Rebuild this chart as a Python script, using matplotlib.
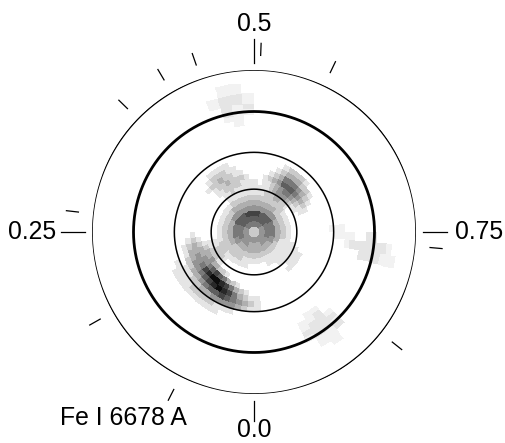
import matplotlib
matplotlib.use('Agg')
import matplotlib.pyplot as plt
import numpy as np

plt.rcParams['font.family'] = ['Liberation Sans', 'DejaVu Sans']

# ---------------- data ----------------
major_phases = [0.0, 0.25, 0.5, 0.75]
major_labels = ['0.0', '0.25', '0.5', '0.75']
obs_phases = [0.075, 0.168, 0.268, 0.373, 0.415, 0.447, 0.506, 0.571, 0.764, 0.857]
line_label = 'Fe I 6678 A'

# latitude circles (colatitude, deg): lat 60, 30, equator, -30
circle_colat = [32.0, 59.5, 90.0, 121.0]
circle_lw = [1.1, 1.1, 2.0, 1.1]

BAND = 4          # colatitude step of one map band (deg)
N_BANDS = 30
N_LON = 72        # cells per band (phase step 1/72)

# polar cap bands: 8 groups of 9 cells each, starting at phase 0
cap_rows = [
    "222222222" "222222222" "222222222" "222222222" "222222222" "222222222" "222222222" "222222222",
    "444444444" "444444444" "444444455" "555555555" "555555555" "554444444" "444444444" "444444444",
    "333334444" "444455555" "555555666" "666666666" "666666666" "665555555" "555554444" "444433333",
    "333333333" "334444555" "555556666" "666677777" "777766666" "666555555" "555444433" "333333333",
    "222222222" "222333333" "333333444" "444444444" "444444444" "444333333" "333332222" "222222222",
    "111112222" "222222222" "222222222" "333333333" "333333333" "222222222" "222111111" "111111111",
    "001111111" "112222111" "111111111" "122222222" "222222222" "221111111" "111111111" "111110000",
    "000000000" "122221100" "000000000" "011111111" "111222332" "210000000" "000111111" "110000000",
]

# sparse bands: band index -> list of (first cell, levels);  ':' = half level
spot_cells = {
    8:  [(9, "1122211"), (28, "11211111111"), (39, "1234443211"), (58, "11111")],
    9:  [(6, "1223343321"), (27, "11222211"), (35, "11"), (38, "112345543211"), (59, "11111")],
    10: [(3, "12356765443321"), (27, "12232221"), (38, "123466654321")],
    11: [(1, "12357899875443321"), (26, "12232211"), (39, "1235554321")],
    12: [(0, "12357898765443321"), (27, "122211"), (40, "12333221"), (71, "1")],
    13: [(0, "2345676654332211"), (28, "1111"), (41, "12221"), (71, "1")],
    14: [(0, "1234444332211"), (53, ":"), (71, "1")],
    15: [(3, "11122221111"), (53, "::")],
    16: [(5, "11111111"), (53, "::")],
    17: [(54, "::")],
    18: [(54, ":1"), (64, "::")],
    19: [(55, "1"), (64, "1::")],
    20: [(34, ":"), (55, "11"), (63, ":11:")],
    21: [(33, "::"), (54, "111"), (63, "1111")],
    22: [(33, "1::"), (54, "111"), (63, ":11:")],
    23: [(33, "1:1"), (55, "11"), (63, "1::")],
    24: [(32, ":11:"), (55, "1:"), (64, "::")],
    25: [(32, ":11:"), (55, "::"), (64, ":")],
    26: [(33, "::"), (56, ":")],
    27: [(33, "::")],
}

# ---------------- build map ----------------
LEVEL = {'.': 0.0, ':': 0.5}
LEVEL.update({str(d): float(d) for d in range(10)})

grid = np.zeros((N_BANDS, N_LON))
for i, row in enumerate(cap_rows):
    grid[i, :] = [LEVEL[ch] for ch in row]
for band, segs in spot_cells.items():
    for start, levels in segs:
        for k, ch in enumerate(levels):
            grid[band, (start + k) % N_LON] = LEVEL[ch]

theta_edges = 2 * np.pi * np.arange(N_LON + 1) / N_LON
r_edges = BAND * np.arange(N_BANDS + 1)

# ---------------- figure ----------------
fig = plt.figure(figsize=(5.06, 4.43), dpi=100)
ax = fig.add_axes([92 / 506, 49 / 443, 324 / 506, 324 / 443], projection='polar')
ax.set_theta_zero_location('S')
ax.set_theta_direction(-1)

ax.pcolormesh(theta_edges, r_edges, grid, cmap='gray_r', vmin=0, vmax=9.5,
              shading='flat', edgecolors='none', antialiased=False, zorder=1)

tt = np.linspace(0, 2 * np.pi, 721)
for c, lw in zip(circle_colat, circle_lw):
    ax.plot(tt, np.full_like(tt, c), color='black', lw=lw, zorder=3, solid_capstyle='butt')

major_tick_end = [141.0, 144.0, 144.0, 144.0]
for p, r_end in zip(major_phases, major_tick_end):
    th = 2 * np.pi * p
    ax.plot([th, th], [126.5, r_end], color='black', lw=0.9, clip_on=False, zorder=3)
for p in obs_phases:
    th = 2 * np.pi * p
    ax.plot([th, th], [132.0, 141.0], color='black', lw=0.9, clip_on=False, zorder=3)

fs = 17.8
ax.text(2 * np.pi * 0.0, 153.0, major_labels[0], ha='center', va='baseline', fontsize=fs, clip_on=False)
ax.text(2 * np.pi * 0.25, 147.5, major_labels[1], ha='right', va='center', fontsize=fs, clip_on=False)
ax.text(2 * np.pi * 0.5, 150.0, major_labels[2], ha='center', va='baseline', fontsize=fs, clip_on=False)
ax.text(2 * np.pi * 0.75, 150.0, major_labels[3], ha='left', va='center', fontsize=fs, clip_on=False)

ax.set_ylim(0, 121)
ax.axis('off')

fig.text(60 / 506, 1 - 425 / 443, line_label, ha='left', va='baseline', fontsize=fs)

fig.savefig('out.png', dpi=100, facecolor='white')
